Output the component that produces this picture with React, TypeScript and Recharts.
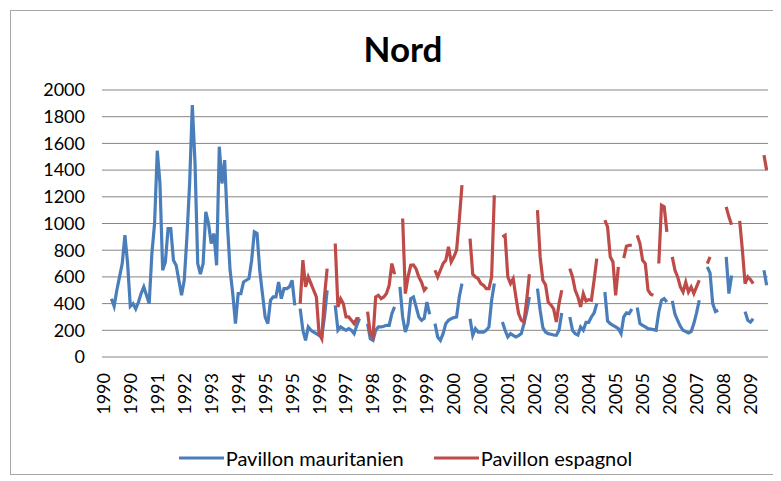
import React from 'react'
import { LineChart, Line, XAxis, YAxis, CartesianGrid, Legend } from 'recharts'

// one label every 10 points, as printed under the axis
const xLabels = [
  '1990', '1990', '1991', '1992', '1993', '1994', '1995', '1995', '1996', '1997', '1998', '1999', '1999',
  '2000', '2000', '2001', '2002', '2003', '2004', '2005', '2005', '2006', '2007', '2008', '2009',
]
const yTicks = [0, 200, 400, 600, 800, 1000, 1200, 1400, 1600, 1800, 2000]

// Pavillon mauritanien, one value per point (null = no data)
const mauritanien = [
  null, null, null, 437, 380, 500, 600, 700, 912, 700,
  380, 400, 360, 410, 475, 525, 462, 400, 775, 1000,
  1545, 1300, 650, 712, 962, 962, 725, 687, 575, 462,
  575, 900, 1300, 1887, 1450, 700, 620, 700, 1087, 1000,
  850, 925, 687, 1575, 1300, 1475, 1000, 650, 475, 250,
  475, 475, 562, 575, 587, 725, 937, 925, 650, 475,
  300, 250, 425, 450, 450, 562, 437, 512, 512, 525,
  575, 387, null, 362, 200, 125, 225, 200, 187, 175,
  162, 150, 300, 500, null, null, 387, 200, 225, 212,
  200, 212, 200, 175, 237, 287, null, null, 250, 137,
  125, 200, 225, 225, 230, 237, 237, 325, 375, null,
  525, 300, 187, 250, 437, 450, 375, 300, 275, 290,
  412, 320, null, 250, 150, 125, 175, 250, 275, 287,
  295, 300, 450, 550, null, null, 287, 162, 212, 187,
  187, 187, 200, 225, 425, 550, null, null, 262, 200,
  150, 175, 162, 150, 160, 175, 250, 337, 450, null,
  null, 512, 350, 220, 187, 175, 170, 165, 162, 200,
  330, null, null, 300, 200, 175, 165, 225, 200, 260,
  260, 300, 330, 400, null, null, 487, 270, 250, 237,
  225, 212, 175, 300, 330, 325, 360, null, 370, 250,
  237, 225, 212, 210, 205, 200, 337, 425, 437, 412,
  null, 420, 320, 275, 230, 200, 190, 180, 190, 250,
  330, 425, null, null, 675, 630, 400, 340, 350, null,
  null, 750, 475, 610, null, null, null, null, 340, 275,
  262, 287, null, null, null, 650, 537,
]

// Pavillon espagnol
const espagnol = [
  null, null, null, null, null, null, null, null, null, null,
  null, null, null, null, null, null, null, null, null, null,
  null, null, null, null, null, null, null, null, null, null,
  null, null, null, null, null, null, null, null, null, null,
  null, null, null, null, null, null, null, null, null, null,
  null, null, null, null, null, null, null, null, null, null,
  null, null, null, null, null, null, null, null, null, null,
  null, null, null, 400, 725, 525, 600, 550, 500, 450,
  175, 137, 450, 662, null, null, 850, 375, 437, 400,
  300, 300, 275, 250, 287, 287, null, null, 340, 175,
  150, 450, 462, 437, 450, 475, 537, 700, 620, null,
  null, 1037, 475, 600, 687, 690, 660, 600, 560, 500,
  525, null, null, 650, 600, 650, 700, 725, 825, 712,
  750, 800, 1025, 1287, null, null, 887, 620, 600, 587,
  550, 537, 512, 512, 600, 1212, null, null, 900, 912,
  600, 550, 587, 450, 325, 275, 262, 425, 620, null,
  null, 1100, 750, 575, 540, 410, 390, 360, 262, 400,
  500, null, null, 662, 600, 500, 450, 375, 475, 420,
  430, 425, 575, 737, null, null, 1025, 975, 750, 712,
  462, 675, null, 740, 830, 837, 837, null, 912, 850,
  725, 700, 500, 470, 462, null, 700, 1137, 1125, 937,
  null, 750, 650, 600, 525, 487, 560, 487, 525, 475,
  525, 575, null, null, 700, 750, null, null, null, null,
  null, 1125, 1050, 990, null, null, 1020, 800, 550, 600,
  580, 550, null, null, null, 1512, 1400,
]

const data = mauritanien.map((v, i) => ({ i, mauritanien: v, espagnol: espagnol[i] }))
const xTicks = xLabels.map((_, k) => k * 10)
const legendOrder = ['mauritanien', 'espagnol']

const YearTick = (props: any) => {
  const { x, y, payload } = props
  return (
    <text x={x} y={y} dy="0.36em" textAnchor="end" fontSize={18} fill="#000"
      transform={`rotate(-90 ${x} ${y})`}>
      {xLabels[payload.value / 10]}
    </text>
  )
}

const renderLegend = (props: any) => {
  const items = [...props.payload].sort(
    (a: any, b: any) => legendOrder.indexOf(a.dataKey) - legendOrder.indexOf(b.dataKey))
  return (
    <div style={{ display: 'flex', justifyContent: 'center', paddingLeft: 32, height: 22, alignItems: 'center' }}>
      {items.map((entry: any, idx: number) => (
        <div key={entry.value} style={{ display: 'flex', alignItems: 'center', marginLeft: idx ? 30 : 0 }}>
          <svg width={45} height={4}><line x1={0} y1={2} x2={45} y2={2} stroke={entry.color} strokeWidth={3} /></svg>
          <span style={{ marginLeft: 2, fontSize: 20, color: '#000' }}>{entry.value}</span>
        </div>
      ))}
    </div>
  )
}

const App: React.FC = () => (
  <div style={{ position: 'relative', width: 765, height: 465, marginLeft: 2, marginTop: 2, border: '1px solid #a6a6a6', boxSizing: 'border-box', fontFamily: 'Lato, "Open Sans", sans-serif', background: '#fff' }}>
    <div style={{ position: 'absolute', left: 0, top: 16, width: 784, textAlign: 'center', fontSize: 35, fontWeight: 700, color: '#000' }}>Nord</div>
    <LineChart width={763} height={463} data={data} margin={{ top: 79, right: 6, left: 0, bottom: 5 }}>
      <CartesianGrid vertical={false} stroke="#868686" />
      <XAxis type="number" dataKey="i" domain={[-0.5, 246.5]} ticks={xTicks} interval={0}
        axisLine={false} tickLine={false} tickMargin={10} height={90} tick={<YearTick />} />
      <YAxis domain={[0, 2000]} ticks={yTicks} interval={0} axisLine={false} tickLine={false}
        width={91} tickMargin={11} tick={{ fontSize: 18, fill: '#000' }} />
      <Line type="linear" dataKey="mauritanien" name="Pavillon mauritanien" stroke="#4a7ebb" strokeWidth={3.2}
        dot={false} isAnimationActive={false} />
      <Line type="linear" dataKey="espagnol" name="Pavillon espagnol" stroke="#be4b48" strokeWidth={3.2}
        dot={false} isAnimationActive={false} />
      <Legend verticalAlign="bottom" content={renderLegend} />
    </LineChart>
  </div>
)

export default App
